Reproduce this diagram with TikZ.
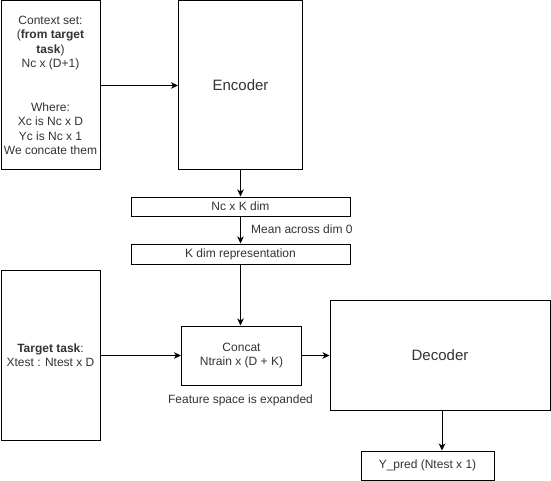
\documentclass[tikz,border=0pt]{standalone}
\usepackage{fontspec}
\setmainfont{Liberation Sans}
\usetikzlibrary{arrows.meta}
\definecolor{txt}{HTML}{333333}
\tikzset{
  box/.style={draw=black, line width=1pt, fill=white, inner sep=0pt, text=txt, align=center},
  small/.style={font=\fontsize{12}{14.5}\selectfont},
  big/.style={font=\fontsize{15}{18}\selectfont},
  conn/.style={line width=1pt, -{Stealth[length=7pt,width=6.5pt,inset=2pt]}},
  lbl/.style={text=txt, inner sep=0pt, font=\fontsize{12}{14.5}\selectfont}
}
\begin{document}
\begin{tikzpicture}[x=1pt,y=-1pt]
\useasboundingbox (0,0) rectangle (551,481);
\node[box, small, minimum width=99pt, minimum height=169pt] (ctx) at (50.5,85.5)
  {Context set:\\({\bfseries from target}\\{\bfseries task})\\Nc x (D+1)\\[14.5pt]\\Where:\\Xc is Nc x D\\Yc is Nc x 1\\We concate them};
\node[box, big, minimum width=124pt, minimum height=169pt] (enc) at (240.5,85.5) {Encoder};
\node[box, small, minimum width=219pt, minimum height=19pt] (nck) at (240.5,206.5) {Nc x K dim};
\node[box, small, minimum width=219pt, minimum height=20pt] (kdim) at (240.5,254) {K dim representation};
\node[box, small, minimum width=99pt, minimum height=170pt] (tgt) at (50.5,355) {{\bfseries Target task}:\\Xtest : Ntest x D};
\node[box, small, minimum width=120pt, minimum height=59pt] (cat) at (241.5,355.5) {Concat\\Ntrain x (D + K)};
\node[box, big, minimum width=220pt, minimum height=110pt] (dec) at (440,355) {Decoder};
\node[box, small, minimum width=133pt, minimum height=29pt] (ypred) at (427.5,465.5) {Y\_pred (Ntest x 1)};
\node[lbl, anchor=west] (meanlbl) at (251,229) {Mean across dim 0};
\node[lbl] (featlbl) at (240.5,400) {Feature space is expanded};
\draw[conn] (ctx.east) -- (enc.west);
\draw[conn] (enc.south) -- (nck.north);
\draw[conn] (nck.south) -- (kdim.north);
\draw[conn] (kdim.south) -- (kdim.south |- cat.north);
\draw[conn] (tgt.east |- cat.west) -- (cat.west);
\draw[conn] (cat.east) -- (cat.east -| dec.west);
\draw[conn] (dec.south -| 442,0) -- (442,0 |- ypred.north);
\end{tikzpicture}
\end{document}
